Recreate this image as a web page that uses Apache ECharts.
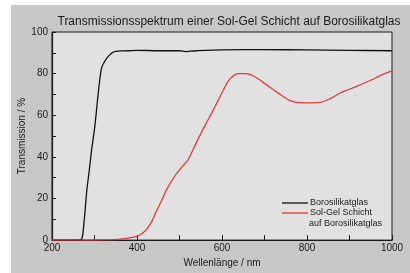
<!DOCTYPE html>
<html>
<head>
<meta charset="utf-8">
<script src="https://cdn.jsdelivr.net/npm/echarts@6/dist/echarts.min.js"></script>
<style>
  html, body { margin: 0; padding: 0; background: #fff; }
  #chart { width: 410px; height: 273px; }
</style>
</head>
<body>
<div id="chart"></div>
<script>
var chartDom = document.getElementById('chart');
var myChart = echarts.init(chartDom);
var option;

// Borosilikatglas
var glasNm  = [200, 260, 270, 276, 282, 288, 293, 297, 301, 305, 309, 313, 317, 323, 329, 336, 344, 352, 360, 380, 400, 450, 500, 515, 525, 540, 600, 700, 800, 900, 1000];
var glasVal = [0,   0,   0.5, 10,  24,  34,  43,  49,  55,  63,  71,  78,  83,  85.5, 87.4, 89, 90.3, 90.7, 90.9, 91, 91.2, 91, 91, 90.6, 90.8, 91, 91.4, 91.5, 91.4, 91.2, 91];

// Sol-Gel Schicht auf Borosilikatglas
var solNm  = [200, 300, 340, 360, 380, 399, 412, 423, 435, 446, 458, 470, 489, 505, 520, 532, 545, 560, 580, 603, 615, 627, 638, 652, 666, 685, 705, 730, 760, 791, 831, 855, 878, 900, 925, 950, 972, 995, 1000];
var solVal = [0,   0,   0.2, 0.5, 1,   1.8, 3.2, 5.3, 9,   14,  19,  24.4, 30.8, 35, 38.5, 43.5, 49, 55,  62.7, 72,  76.5, 79, 80,  80,  79.6, 77.5, 74.6, 71, 67,  65.9, 66.2, 68, 70.7, 72.5, 74.6, 76.8, 79, 81, 81.2];

var xLabelName = 'Wellenlänge / nm';
var yLabelName = 'Transmission / %';
var titleText = 'Transmissionsspektrum einer Sol-Gel Schicht auf Borosilikatglas';
var seriesNames = ['Borosilikatglas', 'Sol-Gel Schicht'];

function pairs(xs, ys) {
  var out = [];
  for (var i = 0; i < xs.length; i++) out.push([xs[i], ys[i]]);
  return out;
}

var font = 'Liberation Sans, Arial, sans-serif';

option = {
  backgroundColor: '#fff',
  animation: false,
  graphic: [
    { type: 'rect', z: -10, shape: { x: 11, y: 5, width: 399, height: 268 }, style: { fill: '#c7c7c7' } },
    { type: 'text', left: 309, top: 219, style: { text: 'auf Borosilikatglas', fontSize: 9, fontFamily: font, fill: '#1a1a1a' } }
  ],
  title: {
    text: titleText,
    left: 224, top: 11, textAlign: 'center',
    textStyle: { fontSize: 12, fontWeight: 'normal', color: '#1a1a1a', fontFamily: font }
  },
  legend: {
    orient: 'vertical',
    left: 277, top: 193,
    icon: 'rect',
    itemWidth: 26, itemHeight: 1.3, itemGap: 0,
    textStyle: { fontSize: 9, color: '#1a1a1a', fontFamily: font, padding: [0, 0, 0, -3], lineHeight: 10 },
    data: seriesNames
  },
  grid: {
    left: 52, right: 18, top: 32, bottom: 32,
    show: true, backgroundColor: '#e1e1e1', borderColor: '#1a1a1a', borderWidth: 1
  },
  xAxis: {
    type: 'value', min: 200, max: 1000, interval: 100,
    name: xLabelName, nameLocation: 'middle', nameGap: 16,
    nameTextStyle: { fontSize: 10, color: '#1a1a1a', fontFamily: font },
    axisLine: { lineStyle: { color: '#1a1a1a', width: 1.2 } },
    axisTick: { inside: true, length: 5, lineStyle: { color: '#1a1a1a' } },
    axisLabel: {
      fontSize: 10, color: '#1a1a1a', fontFamily: font, margin: 3,
      formatter: function (v) { return v % 200 === 0 ? String(v) : ''; }
    },
    splitLine: { show: false }
  },
  yAxis: {
    type: 'value', min: 0, max: 100, interval: 10,
    name: yLabelName, nameLocation: 'middle', nameGap: 25, nameMoveOverlap: false,
    nameTextStyle: { fontSize: 10, color: '#1a1a1a', fontFamily: font },
    axisLine: { show: true, lineStyle: { color: '#1a1a1a', width: 1.2 } },
    axisTick: { show: true, inside: true, length: 4, lineStyle: { color: '#1a1a1a' } },
    axisLabel: {
      fontSize: 10, color: '#1a1a1a', fontFamily: font, margin: 4,
      formatter: function (v) { return v % 20 === 0 ? String(v) : ''; }
    },
    splitLine: { show: false }
  },
  series: [
    {
      name: seriesNames[0], type: 'line', symbol: 'none', smooth: 0.3,
      data: pairs(glasNm, glasVal),
      lineStyle: { color: '#111', width: 1.3 }, itemStyle: { color: '#111' }
    },
    {
      name: seriesNames[1], type: 'line', symbol: 'none', smooth: 0.3,
      data: pairs(solNm, solVal),
      lineStyle: { color: '#e2383c', width: 1.3 }, itemStyle: { color: '#e2383c' }
    }
  ]
};

option && myChart.setOption(option);
</script>
</body>
</html>
